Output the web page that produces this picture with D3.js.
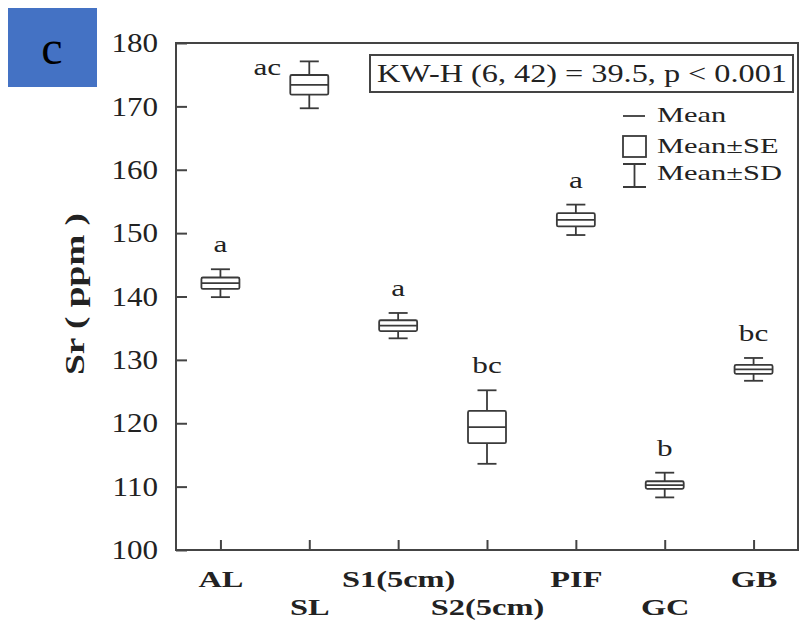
<!DOCTYPE html>
<meta charset="utf-8">
<script src="https://d3js.org/d3.v7.min.js"></script>
<style>
body { margin: 0; background: #fff; }
text { font-family: "Liberation Serif", "Times New Roman", serif; fill: #222; }
.frame { fill: none; stroke: #444; stroke-width: 2px; }
.box rect, .box line { stroke: #3a3a3a; stroke-width: 1.8px; fill: none; }
</style>
<body>
<script>

// values (ppm)
var categories = ["AL", "SL", "S1(5cm)", "S2(5cm)", "PIF", "GC", "GB"];
var means = [142.1, 173.4, 135.4, 119.4, 152.1, 110.25, 128.5];
var se = [0.9, 1.55, 0.85, 2.55, 1.05, 0.6, 0.7];
var sd = [2.2, 3.7, 2.0, 5.8, 2.4, 1.95, 1.8];
var letters = ["a", "ac", "a", "bc", "a", "b", "bc"];
var yTicks = [100, 110, 120, 130, 140, 150, 160, 170, 180];
var statText = "KW-H (6, 42) = 39.5, p < 0.001";

var width = 800, height = 624;
var mLeft = 176, mRight = 798, mTop = 43, mBottom = 550;

var svg = d3.select("body").append("svg")
    .attr("width", width)
    .attr("height", height);

// widen text horizontally like the source figure
function stretch(sel, k) {
    sel.each(function() {
        var w = this.getComputedTextLength();
        d3.select(this).attr("textLength", w * k).attr("lengthAdjust", "spacingAndGlyphs");
    });
}

var x = d3.scalePoint().domain(categories).range([mLeft, mRight]).padding(0.5);
var y = d3.scaleLinear().domain([100, 180]).range([mBottom, mTop]);

// panel tag
svg.append("rect").attr("x", 8).attr("y", 8).attr("width", 89).attr("height", 79).attr("fill", "#4472C4");
svg.append("text").attr("x", 52).attr("y", 64).attr("text-anchor", "middle")
    .style("font-size", "48px").style("fill", "#000").text("c");

// axes
var yAxis = d3.axisLeft(y).tickValues(yTicks).tickSizeInner(-11).tickSizeOuter(0).tickPadding(18);
var gy = svg.append("g").attr("transform", "translate(" + mLeft + ",0)").call(yAxis);
gy.select(".domain").remove();
gy.selectAll(".tick line").attr("stroke", "#444").attr("stroke-width", 2);
gy.selectAll(".tick text").style("font-size", "27px").style("font-family", "Liberation Serif").attr("fill", "#222")
    .call(stretch, 1.15);

var xAxis = d3.axisBottom(x).tickSizeInner(-10).tickSizeOuter(0);
var gx = svg.append("g").attr("transform", "translate(0," + mBottom + ")").call(xAxis);
gx.select(".domain").remove();
gx.selectAll(".tick line").attr("stroke", "#444").attr("stroke-width", 2);
gx.selectAll(".tick text")
    .style("font-size", "24px").style("font-family", "Liberation Serif").style("font-weight", "bold")
    .attr("fill", "#222")
    .attr("dy", 0)
    .attr("y", function(d, i) { return i % 2 == 0 ? 37 : 65; })
    .call(stretch, 1.35);

svg.append("rect").attr("class", "frame")
    .attr("x", mLeft).attr("y", mTop).attr("width", mRight - mLeft).attr("height", mBottom - mTop);

// y title
svg.append("text")
    .attr("transform", "translate(84," + 294 + ") rotate(-90)")
    .attr("text-anchor", "middle")
    .style("font-size", "27px").style("font-weight", "bold")
    .text("Sr ( ppm )")
    .call(stretch, 1.38);

// boxes
var bw = 38, cw = 19;
var box = svg.selectAll(".box")
    .data(categories)
    .enter().append("g")
    .attr("class", "box")
    .attr("transform", function(d) { return "translate(" + x(d) + ",0)"; });

box.append("line")
    .attr("x1", 0).attr("x2", 0)
    .attr("y1", function(d, i) { return y(means[i] + sd[i]); })
    .attr("y2", function(d, i) { return y(means[i] + se[i]); });
box.append("line")
    .attr("x1", 0).attr("x2", 0)
    .attr("y1", function(d, i) { return y(means[i] - se[i]); })
    .attr("y2", function(d, i) { return y(means[i] - sd[i]); });
box.append("line")
    .attr("x1", -cw / 2).attr("x2", cw / 2)
    .attr("y1", function(d, i) { return y(means[i] + sd[i]); })
    .attr("y2", function(d, i) { return y(means[i] + sd[i]); });
box.append("line")
    .attr("x1", -cw / 2).attr("x2", cw / 2)
    .attr("y1", function(d, i) { return y(means[i] - sd[i]); })
    .attr("y2", function(d, i) { return y(means[i] - sd[i]); });
box.append("rect")
    .attr("x", -bw / 2).attr("width", bw)
    .attr("y", function(d, i) { return y(means[i] + se[i]); })
    .attr("height", function(d, i) { return y(means[i] - se[i]) - y(means[i] + se[i]); })
    .attr("rx", 1.5);
box.append("line")
    .attr("x1", -bw / 2).attr("x2", bw / 2)
    .attr("y1", function(d, i) { return y(means[i]); })
    .attr("y2", function(d, i) { return y(means[i]); });

// significance letters, moved to the left of the box when there is no room above
box.append("text")
    .attr("text-anchor", "middle")
    .style("font-size", "24px")
    .attr("x", function(d, i) { return y(means[i] + sd[i]) - 40 < mTop ? -42 : 0; })
    .attr("y", function(d, i) {
        var yt = y(means[i] + sd[i]);
        return yt - 40 < mTop ? y(means[i] + se[i]) : yt - 17;
    })
    .text(function(d, i) { return letters[i]; })
    .call(stretch, 1.3);

// statistic box
svg.append("rect").attr("x", 370).attr("y", 55).attr("width", 423).attr("height", 37)
    .attr("fill", "#fff").attr("stroke", "#444").attr("stroke-width", 2);
svg.append("text").attr("x", 377).attr("y", 82)
    .style("font-size", "25px").text(statText)
    .call(stretch, 1.29);

// legend
var lg = svg.append("g").attr("transform", "translate(623,0)");
lg.append("line").attr("x1", 0).attr("x2", 22).attr("y1", 116).attr("y2", 116)
    .attr("stroke", "#3a3a3a").attr("stroke-width", 1.8);
lg.append("rect").attr("x", 0).attr("y", 136).attr("width", 23).attr("height", 21)
    .attr("fill", "none").attr("stroke", "#3a3a3a").attr("stroke-width", 1.8);
lg.append("path").attr("d", "M0,164H23M11.5,164V187M0,187H23")
    .attr("fill", "none").attr("stroke", "#3a3a3a").attr("stroke-width", 1.8);
lg.selectAll(".lt")
    .data(["Mean", "Mean\u00b1SE", "Mean\u00b1SD"])
    .enter().append("text")
    .attr("x", 34)
    .attr("y", function(d, i) { return [122, 153, 180][i]; })
    .style("font-size", "21px")
    .text(function(d) { return d; })
    .call(stretch, 1.45);

</script>
</body>
